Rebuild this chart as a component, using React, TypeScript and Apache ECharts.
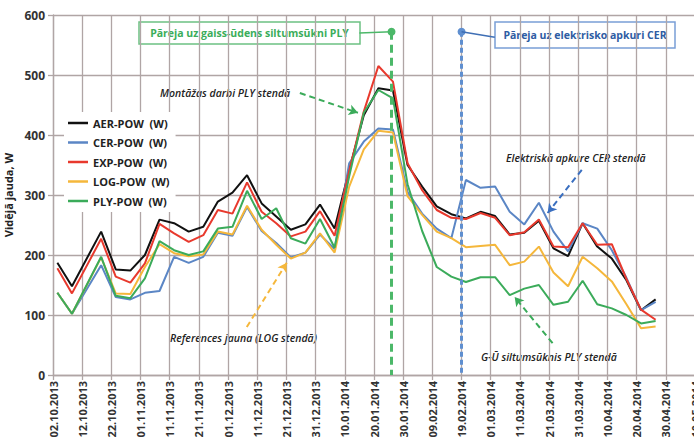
import * as echarts from "echarts";
import { useEffect, useRef } from "react";

// tick labels of the x axis, one every 10 days from 02.10.2013
const tickLabels = [
  "02.10.2013", "12.10.2013", "22.10.2013", "01.11.2013", "11.11.2013", "21.11.2013",
  "01.12.2013", "11.12.2013", "21.12.2013", "31.12.2013", "10.01.2014", "20.01.2014",
  "30.01.2014", "09.02.2014", "19.02.2014", "01.03.2014", "11.03.2014", "21.03.2014",
  "31.03.2014", "10.04.2014", "20.04.2014", "30.04.2014", "10.05.2014",
];

// measurement points, days after 02.10.2013
const days = [
  1.5, 6.5, 16.5, 21.5, 26.5, 31.5, 36.5, 41.5, 46.5, 51.5, 56.5, 61.5, 66.5, 71.5,
  76.5, 81.5, 86.5, 91.5, 96.5, 101.5, 106.5, 111.5, 116.5, 121.5, 126.5, 131.5, 136.5,
  141.5, 146.5, 151.5, 156.5, 161.5, 166.5, 171.5, 176.5, 181.5, 186.5, 191.5, 196.5,
  201.5, 206.5,
];

const aerPow = [
  187, 148, 239, 176, 174, 200, 259, 253, 239, 247, 289, 304, 333, 286, 264, 242, 251, 284,
  244, 342, 433, 478, 474, 350, 314, 281, 268, 261, 272, 265, 234, 237, 257, 211, 198, 253,
  214, 194, 158, 108, 126,
];
const cerPow = [
  137, 102, 183, 130, 126, 137, 140, 197, 187, 197, 237, 232, 280, 240, 220, 196, 204, 234,
  210, 353, 389, 411, 409, 305, 269, 244, 228, 325, 312, 314, 272, 251, 287, 239, 206, 253,
  244, 208, 162, 108, 122,
];
const expPow = [
  178, 136, 227, 164, 154, 186, 252, 236, 222, 233, 275, 269, 321, 272, 253, 231, 239, 273,
  232, 340, 439, 515, 489, 353, 308, 275, 262, 260, 270, 262, 233, 238, 259, 214, 213, 253,
  217, 218, 160, 109, 92,
];
const logPow = [
  137, 102, 196, 136, 135, 180, 218, 203, 198, 201, 239, 234, 282, 242, 217, 194, 204, 236,
  204, 314, 376, 407, 404, 298, 267, 239, 228, 213, 215, 217, 183, 189, 214, 171, 148, 197,
  178, 156, 118, 78, 81,
];
const plyPow = [
  137, 102, 197, 132, 128, 161, 223, 208, 200, 206, 244, 247, 307, 260, 278, 228, 219, 260,
  212, 331, 437, 475, 461, 318, 240, 180, 164, 155, 163, 163, 133, 144, 150, 117, 122, 157,
  118, 111, 100, 86, 90,
];

const seriesNames = ["AER-POW  (W)", "CER-POW  (W)", "EXP-POW  (W)", "LOG-POW  (W)", "PLY-POW  (W)"];
const seriesValues = [aerPow, cerPow, expPow, logPow, plyPow];
const seriesColors = ["#111111", "#5b86c5", "#e8392d", "#f5b73b", "#3bab5a"];

// switch-over days (vertical markers)
const plySwitchDay = 116;
const cerSwitchDay = 140;

const FONT = '"Open Sans", "Noto Sans", sans-serif';
const GRID_COLOR = "#b0a5a5";
const GREEN = "#4cb869";
const BLUE = "#5f8fd0";

export default function App() {
  const chartRef = useRef<HTMLDivElement>(null);

  useEffect(() => {
    if (!chartRef.current) return;
    const chart = echarts.init(chartRef.current, null, { renderer: "svg" });

    const arrow = (from: number[], to: number[], color: string) => [
      { coord: from, symbol: "none", lineStyle: { color, width: 2, type: [6, 4] } },
      { coord: to, symbol: "arrow", symbolSize: [8, 9] },
    ];

    const markLines = [
      // switch to PLY heat pump
      [
        { coord: [plySwitchDay, 572], symbol: "circle", symbolSize: 8, lineStyle: { color: GREEN, width: 3, type: [8, 5] } },
        { coord: [plySwitchDay, 0], symbol: "none" },
      ],
      [
        { coord: [105, 570], symbol: "none", lineStyle: { color: GREEN, width: 1.5, type: "solid" } },
        { coord: [plySwitchDay, 572], symbol: "none" },
      ],
      // switch to electric heating CER
      [
        { coord: [cerSwitchDay, 572], symbol: "circle", symbolSize: 8, lineStyle: { color: BLUE, width: 3, type: [5, 3] } },
        { coord: [cerSwitchDay, 0], symbol: "none" },
      ],
      [
        { coord: [cerSwitchDay, 572], symbol: "none", lineStyle: { color: "#3f6fb5", width: 1.5, type: "solid" } },
        { coord: [151.4, 563], symbol: "none" },
      ],
      arrow([84.6, 470], [104.5, 437], "#3bab5a"),
      arrow([181.2, 342], [169.5, 270], "#3a6fc0"),
      arrow([66.4, 80], [80.1, 187], "#f5b73b"),
      arrow([171.2, 53], [158.2, 130], "#3bab5a"),
    ];

    const noteStyle = (text: string, x: number, y: number) => ({
      type: "text",
      x,
      y,
      style: {
        text,
        font: `italic 600 10.5px ${FONT}`,
        fill: "#222",
        textAlign: "left",
        textVerticalAlign: "middle",
      },
    });

    const option: echarts.EChartsOption = {
      animation: false,
      backgroundColor: "#fff",
      grid: {
        left: 53,
        top: 15,
        right: -1,
        bottom: 67,
        containLabel: false,
        outerBoundsMode: "none",
      } as any,
      legend: {
        orient: "vertical",
        left: 64,
        top: 112,
        backgroundColor: "#fff",
        padding: [4, 6, 4, 4],
        icon: "rect",
        itemWidth: 20,
        itemHeight: 2.5,
        itemGap: 5.5,
        textStyle: { fontFamily: FONT, fontSize: 11, fontWeight: "bold", color: "#222", lineHeight: 14 },
        data: seriesNames,
      },
      xAxis: {
        type: "value",
        min: 0,
        max: 220,
        interval: 10,
        axisLine: { show: true, lineStyle: { color: GRID_COLOR, width: 1.3 } },
        axisTick: { show: true, length: 5, lineStyle: { color: GRID_COLOR, width: 1.3 } },
        splitLine: { show: true, lineStyle: { color: GRID_COLOR, width: 1.3 } },
        axisLabel: {
          rotate: 90,
          margin: 6,
          showMaxLabel: true,
          fontFamily: FONT,
          fontSize: 11,
          fontWeight: "bold",
          color: "#333",
          formatter: (v: number) => tickLabels[Math.round(v / 10)] ?? "",
        },
      },
      yAxis: {
        type: "value",
        min: 0,
        max: 600,
        interval: 100,
        name: "Vidējā jauda, W",
        nameLocation: "middle",
        nameGap: 34,
        nameTextStyle: { fontFamily: FONT, fontSize: 11, fontWeight: "bold", color: "#222" },
        axisLine: { show: true, lineStyle: { color: GRID_COLOR, width: 1.3 } },
        axisTick: { show: true, length: 5, lineStyle: { color: GRID_COLOR, width: 1.3 } },
        splitLine: { show: true, lineStyle: { color: GRID_COLOR, width: 1.3 } },
        axisLabel: { fontFamily: FONT, fontSize: 12, fontWeight: "bold", color: "#333", margin: 8 },
      },
      series: [
        ...seriesNames.map((name, i) => ({
          name,
          type: "line" as const,
          showSymbol: false,
          symbol: "none",
          color: seriesColors[i],
          lineStyle: { width: 2, color: seriesColors[i] },
          data: days.map((d, j) => [d, seriesValues[i][j]]),
          z: 3,
        })),
        {
          name: "notes",
          type: "line",
          data: [],
          silent: true,
          z: 4,
          markLine: {
            silent: true,
            animation: false,
            label: { show: false },
            data: markLines as any,
          },
        },
      ],
      graphic: [
        {
          type: "rect",
          shape: { x: 139, y: 22, width: 221, height: 22 },
          style: { fill: "#fff", stroke: "#6cc183", lineWidth: 1.5 },
        },
        {
          type: "text",
          x: 249.5,
          y: 33,
          style: {
            text: "Pāreja uz gaiss-ūdens siltumsūkni PLY",
            font: `bold 10.5px ${FONT}`,
            fill: "#3aad5a",
            textAlign: "center",
            textVerticalAlign: "middle",
          },
        },
        {
          type: "rect",
          shape: { x: 495, y: 22, width: 180, height: 26 },
          style: { fill: "#fff", stroke: "#7a9fd6", lineWidth: 1.5 },
        },
        {
          type: "text",
          x: 585,
          y: 35,
          style: {
            text: "Pāreja uz elektrisko apkuri CER",
            font: `bold 10.5px ${FONT}`,
            fill: "#2e5ca3",
            textAlign: "center",
            textVerticalAlign: "middle",
          },
        },
        noteStyle("Montāžas darbi PLY stendā", 160, 93),
        noteStyle("Elektriskā apkure CER stendā", 506, 158),
        noteStyle("References jauna (LOG stendā)", 170, 338),
        noteStyle("G-Ū siltumsūknis PLY stendā", 481, 357),
      ] as any,
    };

    chart.setOption(option);

    return () => {
      chart.dispose();
    };
  }, []);

  return (
    <div
      ref={chartRef}
      style={{ position: "absolute", left: 0, top: 0, width: "694px", height: "442px" }}
    />
  );
}
